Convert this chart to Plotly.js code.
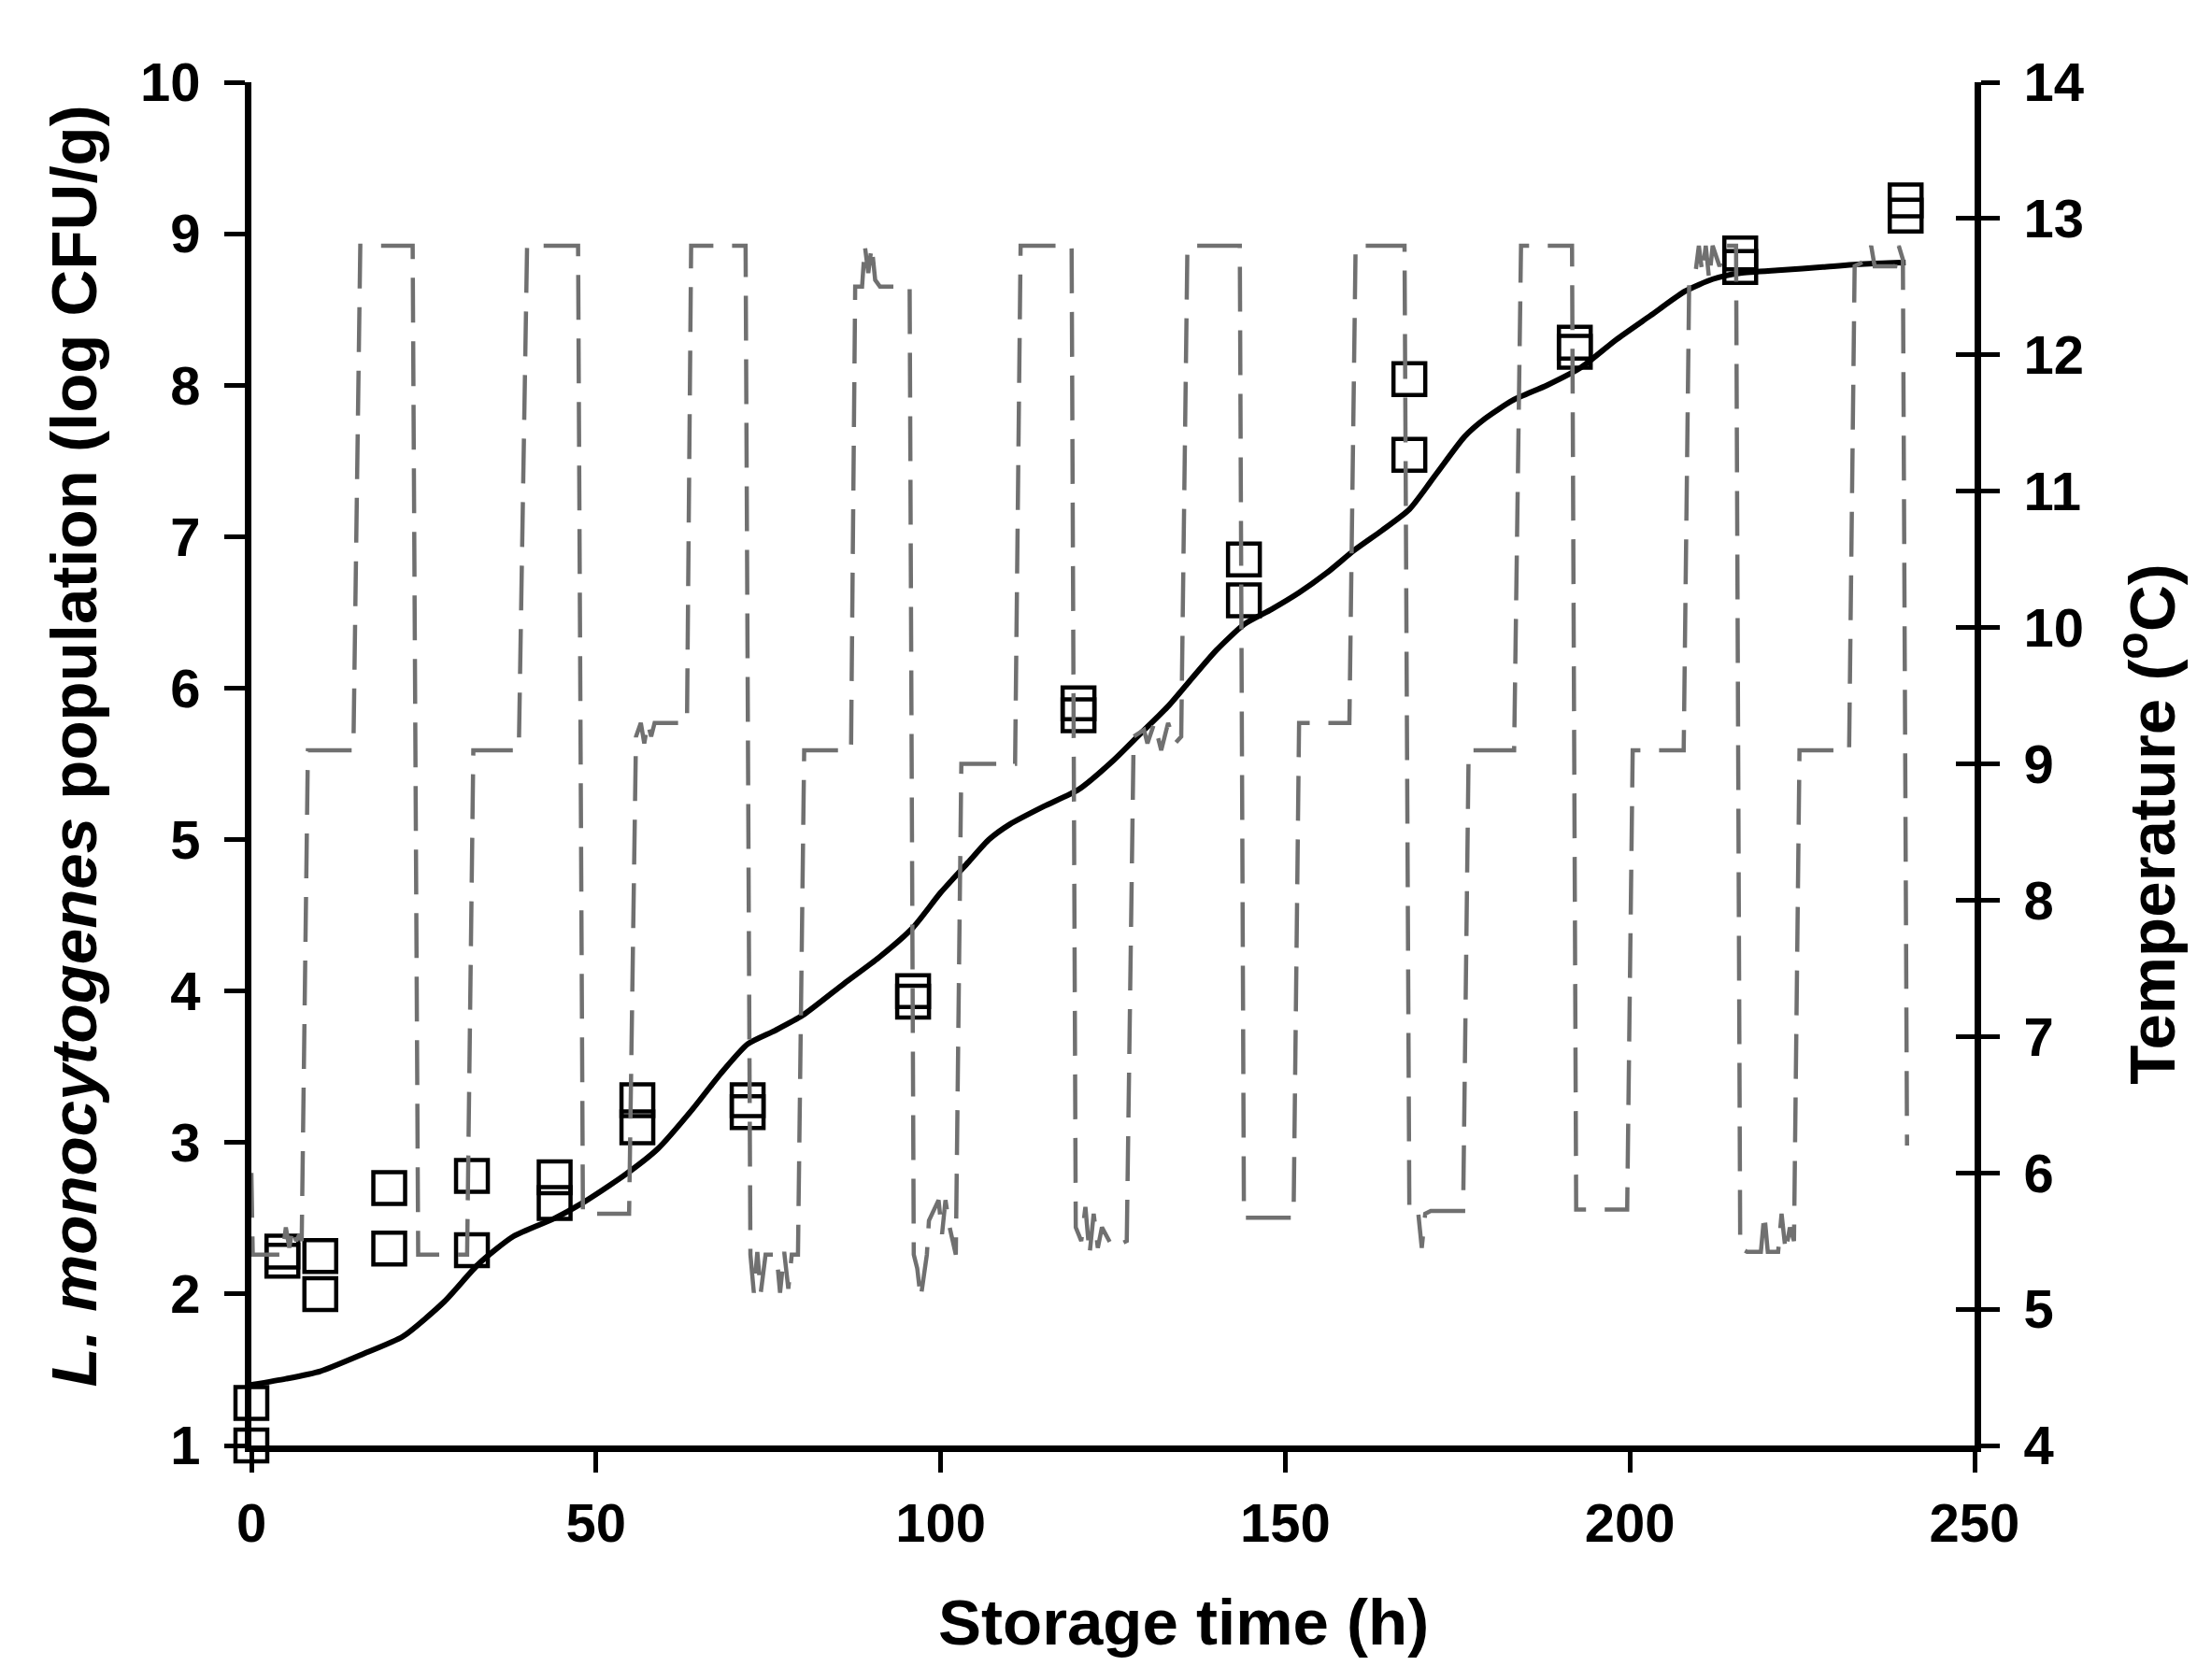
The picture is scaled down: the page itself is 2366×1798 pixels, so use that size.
<!DOCTYPE html>
<html>
<head>
<meta charset="utf-8">
<script src="https://cdn.plot.ly/plotly-3.0.1.min.js"></script>
<style>html,body{margin:0;padding:0;background:#fff;}#chart{width:2366px;height:1798px;}</style>
</head>
<body>
<div id="chart"></div>
<script>
// Observed L. monocytogenes counts (log CFU/g), two replicates per sampling time
const obsTime = [0, 0, 4.5, 4.5, 10, 10, 20, 20, 32, 32, 44, 44, 56, 56, 72, 72, 96, 96, 120, 120, 144, 144, 168, 168, 192, 192, 216, 216, 240, 240];
const obsLog  = [1.28, 1.0, 2.28, 2.22, 2.25, 2.0, 2.7, 2.3, 2.78, 2.29, 2.77, 2.6, 3.28, 3.1, 3.28, 3.2, 4.0, 3.93, 5.9, 5.82, 6.85, 6.58, 8.04, 7.54, 8.28, 8.22, 8.87, 8.78, 9.22, 9.12];

// Predicted growth curve (log CFU/g)
const predTime = [0, 5, 10, 16, 22, 28, 33, 38, 44, 48, 54, 59, 64, 68, 72, 76, 80, 86, 91, 96, 100, 104, 107, 110, 115, 120, 125, 129, 133, 136, 140, 144, 148, 152, 156, 160, 164, 168, 172, 176, 179, 183, 188, 193, 198, 203, 208, 212, 216, 222, 228, 234, 240];
const predLog  = [1.40, 1.44, 1.49, 1.60, 1.72, 1.95, 2.20, 2.38, 2.50, 2.60, 2.78, 2.96, 3.22, 3.45, 3.65, 3.74, 3.84, 4.05, 4.22, 4.42, 4.65, 4.85, 5.00, 5.10, 5.22, 5.33, 5.52, 5.70, 5.88, 6.04, 6.25, 6.42, 6.52, 6.63, 6.76, 6.91, 7.04, 7.18, 7.42, 7.66, 7.78, 7.90, 8.00, 8.12, 8.30, 8.46, 8.62, 8.70, 8.74, 8.76, 8.78, 8.80, 8.81];

// Recorded storage temperature (°C)
const tempTime = [0, 0.2, 4.5, 5.0, 5.5, 6.0, 6.5, 7.0, 7.3, 8.2, 14.8, 15.8, 23.4, 24.2, 31.3, 32.2, 38.8, 40.0, 47.4, 48.1, 54.8, 55.8, 56.5, 57.0, 57.5, 58.0, 58.5, 63.2, 63.8, 71.7, 72.4, 72.9, 73.4, 73.9, 74.6, 76.2, 76.7, 77.3, 77.9, 78.4, 79.3, 80.2, 87.0, 87.6, 88.6, 89.0, 89.5, 90.0, 90.5, 91.2, 95.5, 96.1, 96.6, 97.1, 98.0, 98.3, 99.7, 100.2, 100.7, 101.3, 102.2, 103.0, 110.8, 111.6, 119.0, 119.6, 120.4, 121.0, 121.6, 122.2, 122.8, 123.4, 125.0, 127.0, 128.0, 129.5, 130.0, 131.0, 132.0, 133.0, 134.0, 134.9, 135.8, 143.4, 144.0, 151.2, 152.0, 159.3, 160.2, 167.3, 168.0, 169.3, 169.8, 170.3, 171.1, 175.8, 176.6, 183.2, 184.2, 191.6, 192.2, 199.6, 200.4, 207.8, 208.6, 209.5, 210.0, 210.5, 211.0, 211.5, 212.0, 213.0, 214.0, 215.4, 216.0, 217.0, 219.0, 219.5, 220.0, 221.5, 222.0, 222.6, 223.2, 223.8, 224.6, 231.8, 232.6, 234.5, 235.0, 235.5, 238.5, 239.0, 239.6, 240.2];
const tempC    = [6.0, 5.4, 5.4, 5.6, 5.45, 5.6, 5.5, 5.55, 5.5, 9.1, 9.1, 12.8, 12.8, 5.4, 5.4, 9.1, 9.1, 12.8, 12.8, 5.7, 5.7, 9.2, 9.3, 9.15, 9.3, 9.2, 9.3, 9.3, 12.8, 12.8, 5.4, 5.12, 5.42, 5.12, 5.4, 5.4, 5.12, 5.42, 5.15, 5.4, 5.4, 9.1, 9.1, 12.5, 12.5, 12.8, 12.6, 12.8, 12.55, 12.5, 12.5, 5.4, 5.3, 5.08, 5.4, 5.65, 5.8, 5.55, 5.8, 5.6, 5.4, 9.0, 9.0, 12.8, 12.8, 5.6, 5.5, 5.75, 5.4, 5.7, 5.45, 5.6, 5.45, 5.5, 9.2, 9.25, 9.15, 9.3, 9.1, 9.3, 9.15, 9.2, 12.8, 12.8, 5.67, 5.67, 9.3, 9.3, 12.8, 12.8, 5.7, 5.7, 5.45, 5.7, 5.72, 5.72, 9.1, 9.1, 12.8, 12.8, 5.73, 5.73, 9.1, 9.1, 12.55, 12.6, 12.8, 12.6, 12.8, 12.55, 12.8, 12.65, 12.8, 12.8, 5.45, 5.42, 5.42, 5.7, 5.42, 5.42, 5.7, 5.42, 5.6, 5.5, 9.1, 9.1, 12.65, 12.7, 12.8, 12.65, 12.65, 12.8, 12.7, 6.2];

const xTicks = [0, 50, 100, 150, 200, 250];
const yLeftTicks = [1, 2, 3, 4, 5, 6, 7, 8, 9, 10];
const yRightTicks = [4, 5, 6, 7, 8, 9, 10, 11, 12, 13, 14];

const FONT = 'Liberation Sans, Arial, Helvetica, sans-serif';

const traces = [
  {
    x: tempTime, y: tempC, yaxis: 'y2', type: 'scatter', mode: 'lines',
    line: {color: '#707070', width: 4.5, dash: '48px,20px'},
    hoverinfo: 'skip', showlegend: false
  },
  {
    x: predTime, y: predLog, type: 'scatter', mode: 'lines',
    line: {color: '#000000', width: 6, shape: 'spline', smoothing: 0.6},
    showlegend: false
  },
  {
    x: obsTime, y: obsLog, type: 'scatter', mode: 'markers', cliponaxis: false,
    marker: {symbol: 'square-open', size: 34, color: '#000000', line: {width: 4.5, color: '#000000'}},
    showlegend: false
  },
  // invisible helper so that the crossing ticks of the right axis (yaxis3) are drawn
  {x: [0], y: [4], yaxis: 'y3', type: 'scatter', mode: 'markers', marker: {opacity: 0}, hoverinfo: 'skip', showlegend: false}
];

const tickFont = {family: FONT, size: 58, color: '#000', weight: 'bold'};
const titleFont = {family: FONT, size: 69, color: '#000', weight: 'bold'};

const layout = {
  width: 2366, height: 1798,
  margin: {l: 269, r: 253, t: 88, b: 251, pad: 0},
  paper_bgcolor: '#ffffff', plot_bgcolor: '#ffffff',
  showlegend: false,
  xaxis: {
    range: [0, 250], tickvals: xTicks, ticktext: xTicks.map(String),
    ticks: 'outside', ticklen: 22, tickwidth: 5, tickcolor: '#000',
    showline: true, linewidth: 7, linecolor: '#000', mirror: false,
    showgrid: false, zeroline: false, tickfont: tickFont, ticklabelstandoff: 4
  },
  yaxis: {
    range: [1, 10], tickvals: yLeftTicks, ticktext: yLeftTicks.map(String),
    ticks: 'outside', ticklen: 22, tickwidth: 5, tickcolor: '#000',
    showline: true, linewidth: 7, linecolor: '#000',
    showgrid: false, zeroline: false, tickfont: tickFont, ticklabelstandoff: 14
  },
  yaxis2: {
    range: [4, 14], overlaying: 'y', side: 'right',
    tickvals: yRightTicks, ticktext: yRightTicks.map(String),
    ticks: 'outside', ticklen: 20, tickwidth: 5, tickcolor: '#000',
    showline: true, linewidth: 7, linecolor: '#000',
    showgrid: false, zeroline: false, tickfont: tickFont, ticklabelstandoff: 14
  },
  yaxis3: {
    range: [4, 14], overlaying: 'y', side: 'right',
    tickvals: yRightTicks, ticks: 'inside', ticklen: 20, tickwidth: 5, tickcolor: '#000',
    showticklabels: false, showline: false, showgrid: false, zeroline: false
  },
  annotations: [
    {
      xref: 'paper', yref: 'paper', x: 0.5407, y: -0.13, xanchor: 'center', yanchor: 'middle',
      text: 'Storage time (h)', showarrow: false, font: titleFont
    },
    {
      xref: 'paper', yref: 'paper', x: -0.1025, y: 0.513, xanchor: 'center', yanchor: 'middle',
      textangle: -90, text: '<i>L. monocytogenes</i> population (log CFU/g)', showarrow: false, font: titleFont
    },
    {
      xref: 'paper', yref: 'paper', x: 1.1003, y: 0.456, xanchor: 'center', yanchor: 'middle',
      textangle: -90, text: 'Temperature (<sup>o</sup>C)', showarrow: false, font: titleFont
    }
  ]
};

Plotly.newPlot('chart', traces, layout, {staticPlot: true, displayModeBar: false});
</script>
</body>
</html>
